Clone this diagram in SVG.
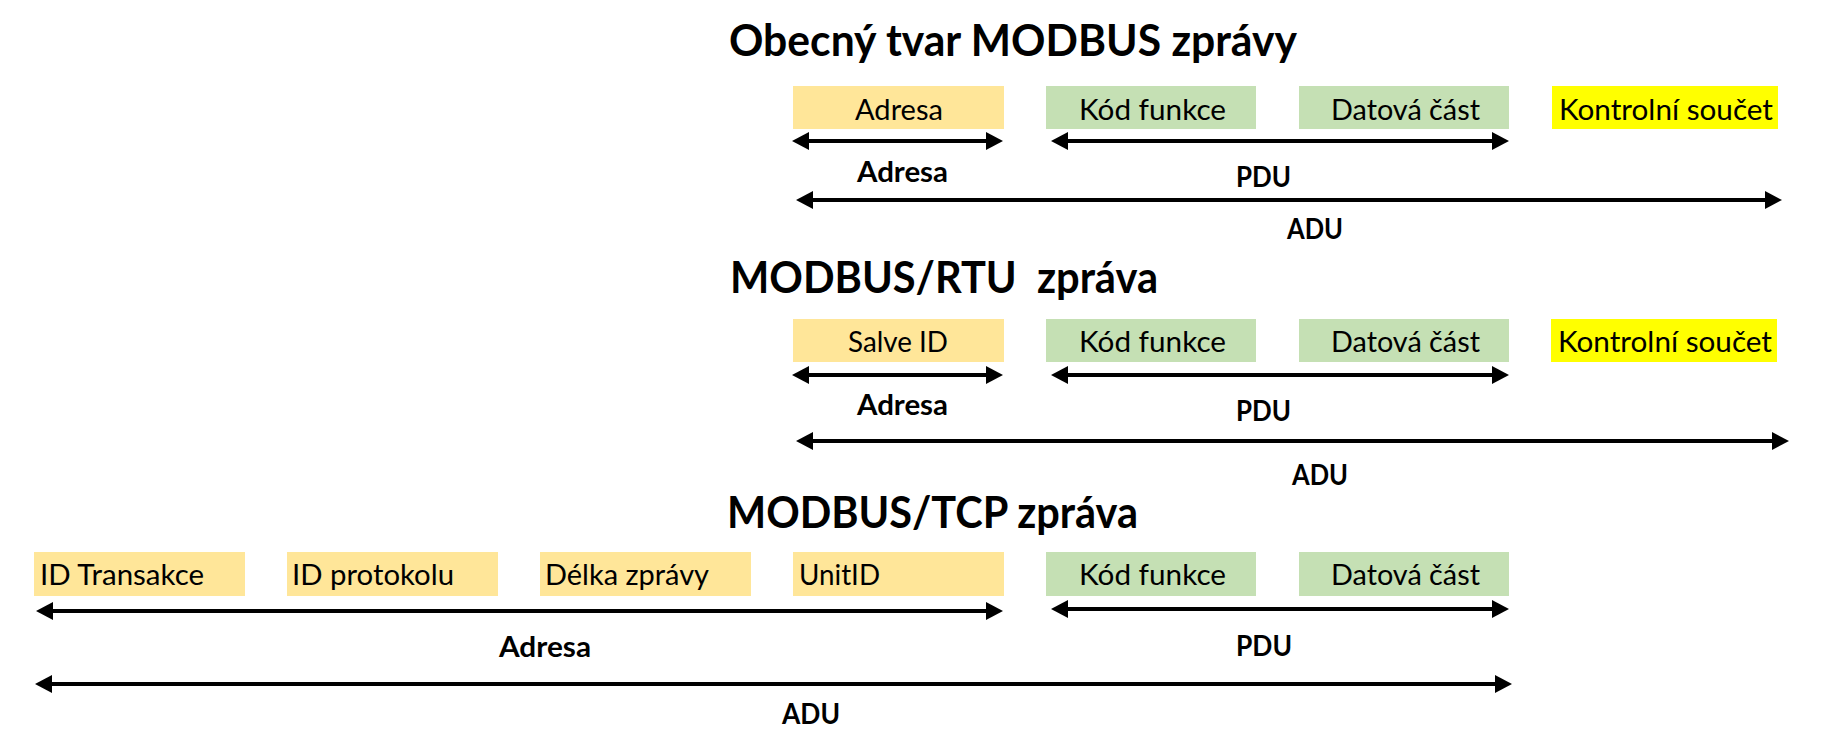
<svg xmlns="http://www.w3.org/2000/svg" width="1825" height="746" viewBox="0 0 1825 746">
<style>
.title{font-family:Lato,"Liberation Sans",sans-serif;font-weight:bold;font-size:44px;fill:#000}
.bt{font-family:Lato,"Liberation Sans",sans-serif;font-size:29.5px;fill:#000}
.lbl{font-family:Lato,"Liberation Sans",sans-serif;font-weight:bold;font-size:29px;fill:#000}
.addr{fill:#FFE699}
.pdu{fill:#C5E0B4}
.crc{fill:#FFFF00}
.arr{stroke:#000;stroke-width:4;fill:none;marker-start:url(#ah);marker-end:url(#ah)}
</style>
<defs>
<marker id="ah" markerUnits="userSpaceOnUse" markerWidth="18" markerHeight="18" refX="7" refY="9" orient="auto-start-reverse" viewBox="0 0 18 18">
<path d="M0,0 L17,9 L0,18 z" fill="#000"/>
</marker>
</defs>
<rect width="1825" height="746" fill="#fff"/>

<g id="titles">
<text class="title" x="729" y="56" textLength="568" lengthAdjust="spacingAndGlyphs">Obecný tvar MODBUS zprávy</text>
<text class="title" x="730" y="293" textLength="428" lengthAdjust="spacingAndGlyphs" xml:space="preserve">MODBUS/RTU  zpráva</text>
<text class="title" x="727" y="528" textLength="411" lengthAdjust="spacingAndGlyphs">MODBUS/TCP zpráva</text>
</g>

<g id="r1-adresa"><rect class="addr" x="793" y="86" width="211" height="43"/><text class="bt" x="855" y="119.5" textLength="88" lengthAdjust="spacingAndGlyphs">Adresa</text></g>
<g id="r1-kod"><rect class="pdu" x="1046" y="86" width="210" height="43"/><text class="bt" x="1079" y="119.5" textLength="147" lengthAdjust="spacingAndGlyphs">Kód funkce</text></g>
<g id="r1-data"><rect class="pdu" x="1299" y="86" width="210" height="43"/><text class="bt" x="1331" y="119.5" textLength="149" lengthAdjust="spacingAndGlyphs">Datová část</text></g>
<g id="r1-crc"><rect class="crc" x="1552" y="86" width="226" height="43"/><text class="bt" x="1559" y="119.5" textLength="214" lengthAdjust="spacingAndGlyphs">Kontrolní součet</text></g>

<g id="r2-slave"><rect class="addr" x="793" y="319" width="211" height="43"/><text class="bt" x="848" y="352" textLength="100" lengthAdjust="spacingAndGlyphs">Salve ID</text></g>
<g id="r2-kod"><rect class="pdu" x="1046" y="319" width="210" height="43"/><text class="bt" x="1079" y="352" textLength="147" lengthAdjust="spacingAndGlyphs">Kód funkce</text></g>
<g id="r2-data"><rect class="pdu" x="1299" y="319" width="210" height="43"/><text class="bt" x="1331" y="352" textLength="149" lengthAdjust="spacingAndGlyphs">Datová část</text></g>
<g id="r2-crc"><rect class="crc" x="1551" y="319" width="226" height="43"/><text class="bt" x="1558" y="352" textLength="214" lengthAdjust="spacingAndGlyphs">Kontrolní součet</text></g>

<g id="r3-trans"><rect class="addr" x="34" y="552" width="211" height="44"/><text class="bt" x="40" y="585" textLength="164" lengthAdjust="spacingAndGlyphs">ID Transakce</text></g>
<g id="r3-proto"><rect class="addr" x="287" y="552" width="211" height="44"/><text class="bt" x="292" y="585" textLength="162" lengthAdjust="spacingAndGlyphs">ID protokolu</text></g>
<g id="r3-len"><rect class="addr" x="540" y="552" width="211" height="44"/><text class="bt" x="545" y="585" textLength="164" lengthAdjust="spacingAndGlyphs">Délka zprávy</text></g>
<g id="r3-unit"><rect class="addr" x="793" y="552" width="211" height="44"/><text class="bt" x="799" y="585" textLength="81" lengthAdjust="spacingAndGlyphs">UnitID</text></g>
<g id="r3-kod"><rect class="pdu" x="1046" y="552" width="210" height="44"/><text class="bt" x="1079" y="585" textLength="147" lengthAdjust="spacingAndGlyphs">Kód funkce</text></g>
<g id="r3-data"><rect class="pdu" x="1299" y="552" width="210" height="44"/><text class="bt" x="1331" y="585" textLength="149" lengthAdjust="spacingAndGlyphs">Datová část</text></g>

<g id="connectors">
<line class="arr" x1="802" y1="141" x2="993" y2="141"/>
<line class="arr" x1="1061" y1="141" x2="1499" y2="141"/>
<line class="arr" x1="806" y1="200" x2="1772" y2="200"/>
<line class="arr" x1="802" y1="375" x2="993" y2="375"/>
<line class="arr" x1="1061" y1="375" x2="1499" y2="375"/>
<line class="arr" x1="806" y1="441" x2="1779" y2="441"/>
<line class="arr" x1="46" y1="611" x2="993" y2="611"/>
<line class="arr" x1="1061" y1="609" x2="1499" y2="609"/>
<line class="arr" x1="45" y1="684" x2="1502" y2="684"/>
</g>

<g id="labels">
<text class="lbl" x="857" y="182" textLength="91" lengthAdjust="spacingAndGlyphs">Adresa</text>
<text class="lbl" x="1236" y="187" textLength="55" lengthAdjust="spacingAndGlyphs">PDU</text>
<text class="lbl" x="1287" y="239" textLength="56" lengthAdjust="spacingAndGlyphs">ADU</text>
<text class="lbl" x="857" y="415" textLength="91" lengthAdjust="spacingAndGlyphs">Adresa</text>
<text class="lbl" x="1236" y="421" textLength="55" lengthAdjust="spacingAndGlyphs">PDU</text>
<text class="lbl" x="1292" y="485" textLength="56" lengthAdjust="spacingAndGlyphs">ADU</text>
<text class="lbl" x="499" y="657" textLength="92" lengthAdjust="spacingAndGlyphs">Adresa</text>
<text class="lbl" x="1236" y="656" textLength="56" lengthAdjust="spacingAndGlyphs">PDU</text>
<text class="lbl" x="782" y="724" textLength="58" lengthAdjust="spacingAndGlyphs">ADU</text>
</g>
</svg>
